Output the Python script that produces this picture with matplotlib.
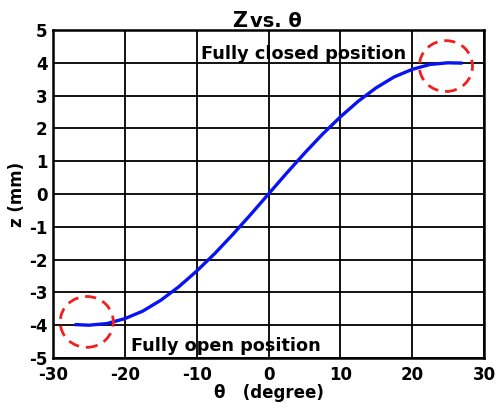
import matplotlib
matplotlib.use("Agg")
import matplotlib.pyplot as plt
from matplotlib.patches import Ellipse

plt.rcParams['font.family'] = ['DejaVu Sans']
plt.rcParams['axes.unicode_minus'] = False

theta = [-27, -25, -22.5, -20, -17.5, -15, -12.5, -10, -7.5, -5, -2.5, 0,
         2.5, 5, 7.5, 10, 12.5, 15, 17.5, 20, 22.5, 25, 27]
z = [-3.98, -4.0, -3.95, -3.80, -3.57, -3.24, -2.83, -2.35, -1.82, -1.24, -0.63, 0.0,
     0.63, 1.24, 1.82, 2.35, 2.83, 3.24, 3.57, 3.80, 3.95, 4.0, 3.99]
x_ticks = [-30, -20, -10, 0, 10, 20, 30]
y_ticks = [-5, -4, -3, -2, -1, 0, 1, 2, 3, 4, 5]
marked = [(-25.3, -3.9), (24.7, 3.9)]

fig = plt.figure(figsize=(4.98, 4.09), dpi=100)
ax = fig.add_axes([53 / 498, 1 - 358 / 409, (484 - 53) / 498, (358 - 30) / 409])

ax.plot(theta, z, color='#0a14f0', lw=2.4, zorder=3, solid_capstyle='butt')

for cx, cy in marked:
    ax.add_patch(Ellipse((cx, cy), 7.4, 1.55, fill=False, edgecolor='#f02020',
                         lw=2.0, ls=(0, (4, 2.5)), zorder=4, clip_on=False))

ax.set_xlim(-30, 30)
ax.set_ylim(-5, 5)
ax.set_xticks(x_ticks)
ax.set_yticks(y_ticks)
ax.grid(True, color='black', lw=1.3)
ax.set_axisbelow(True)
for s in ax.spines.values():
    s.set_linewidth(1.8)
ax.tick_params(length=0, labelsize=12)
ax.tick_params(axis='x', pad=6)
ax.tick_params(axis='y', pad=4)
for lab in ax.get_xticklabels() + ax.get_yticklabels():
    lab.set_fontweight('bold')

ax.text(-9.4, 4.12, 'Fully closed position', fontsize=12.8, fontweight='bold')
ax.text(-19.1, -4.79, 'Fully open position', fontsize=12.7, fontweight='bold')

ax.set_xlabel('θ   (degree)', fontsize=12, fontweight='bold', labelpad=0)
ax.set_ylabel('z (mm)', fontsize=12, fontweight='bold', labelpad=2)

fig.text(0.467, 1 - 27 / 409, 'Z', fontsize=15, fontweight='bold', ha='left', va='baseline')
fig.text(0.502, 1 - 27 / 409, 'vs. θ', fontsize=14, fontweight='bold', ha='left', va='baseline')

fig.savefig('out.png', dpi=100, facecolor='white')
